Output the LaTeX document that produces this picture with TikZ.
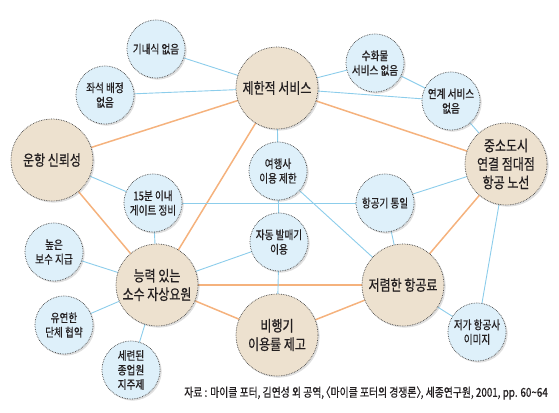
\documentclass[tikz,border=0pt]{standalone}
\usepackage{fontspec}
\newfontfamily\kr[FakeStretch=0.8,FakeBold=0.6]{Noto Sans CJK KR}
\usetikzlibrary{shadows,backgrounds}
\definecolor{tanfill}{HTML}{EDE1CF}
\definecolor{bluefill}{HTML}{DEF0FA}
\definecolor{blueline}{HTML}{8CCDEB}
\definecolor{orangeline}{HTML}{F5B27D}
\definecolor{txt}{HTML}{231F20}
\tikzset{
  base/.style={circle, draw=black!75, densely dotted, line width=0.7pt, inner sep=0pt, align=center, text=txt,
    drop shadow={opacity=0.25, shadow xshift=1.6pt, shadow yshift=-1.6pt}},
  big/.style={base, fill=tanfill, minimum size=82pt, font=\kr\fontsize{15}{18.5}\selectfont},
  small/.style={base, fill=bluefill, minimum size=58pt, font=\kr\fontsize{12}{14.5}\selectfont},
  bl/.style={draw=blueline, line width=0.9pt},
  ol/.style={draw=orangeline, line width=1.5pt}
}
\begin{document}
\begin{tikzpicture}[x=1pt,y=-1pt]
\useasboundingbox (0,0) rectangle (559,412);
% big nodes
\node[big] (L1) at (277,88) {제한적 서비스};
\node[big] (L2) at (52,160) {운항 신뢰성};
\node[big] (L3) at (157,285) {능력 있는\\소수 자상요원};
\node[big] (L4) at (277,335) {비행기\\이용률 제고};
\node[big] (L5) at (403,285) {저렴한 항공료};
\node[big] (L6) at (506,164) {중소도시\\연결 점대점\\항공 노선};
% small nodes
\node[small] (S1) at (156,49) {기내식 없음};
\node[small] (S2) at (105,95) {좌석 배정\\없음};
\node[small] (S3) at (375,63) {수화물\\서비스 없음};
\node[small] (S4) at (451,101) {연계 서비스\\없음};
\node[small] (S5) at (278,171) {여행사\\이용 제한};
\node[small] (S6) at (385,203) {항공기 통일};
\node[small] (S7) at (279,242) {자동 발매기\\이용};
\node[small] (S8) at (153,203) {15분 이내\\게이트 정비};
\node[small] (S9) at (54,252) {높은\\보수 지급};
\node[small] (S10) at (64,325) {유연한\\단체 협약};
\node[small] (S11) at (131,370) {세련된\\종업원\\지주제};
\node[small] (S12) at (477,332) {저가 항공사\\이미지};
% caption
\node[anchor=east, inner sep=0pt, text=txt, font=\kr\fontsize{12.3}{14}\selectfont] (cap) at (548,393)
  {자료 : 마이클 포터, 김연성 외 공역, \kern-0.45em〈마이클 포터의 경쟁론〉\kern-0.45em, 세종연구원, 2001, pp. 60\textasciitilde64};
\begin{scope}[on background layer]
% orange
\draw[ol] (L1.center) -- (L2.center);
\draw[ol] (L1.center) -- (L6.center);
\draw[ol] (L1.center) -- (L3.center);
\draw[ol] (L2.center) -- (L3.center);
\draw[ol] (L3.center) -- (L5.center);
\draw[ol] (L3.center) -- (L4.center);
\draw[ol] (L4.center) -- (L5.center);
\draw[ol] (L5.center) -- (L6.center);
% blue
\draw[bl] (S1.center) -- (L1.center);
\draw[bl] (S2.center) -- (L1.center);
\draw[bl] (S3.center) -- (L1.center);
\draw[bl] (S4.center) -- (L1.center);
\draw[bl] (S3.center) -- (S4.center);
\draw[bl] (S4.center) -- (L6.center);
\draw[bl] (L1.center) -- (S5.center);
\draw[bl] (S5.center) -- (S7.center);
\draw[bl] (S7.center) -- (L4.center);
\draw[bl] (S5.center) -- (L5.center);
\draw[bl] (L2.center) -- (S8.center);
\draw[bl] (S8.center) -- (L3.center);
\draw[bl] (S8.center) -- (S6.center);
\draw[bl] (S6.center) -- (L6.center);
\draw[bl] (S6.center) -- (L5.center);
\draw[bl] (S7.center) -- (L3.center);
\draw[bl] (S9.center) -- (L3.center);
\draw[bl] (S10.center) -- (L3.center);
\draw[bl] (S11.center) -- (L3.center);
\draw[bl] (L5.center) -- (S12.center);
\draw[bl] (S12.center) -- (L6.center);
\end{scope}
\end{tikzpicture}
\end{document}
